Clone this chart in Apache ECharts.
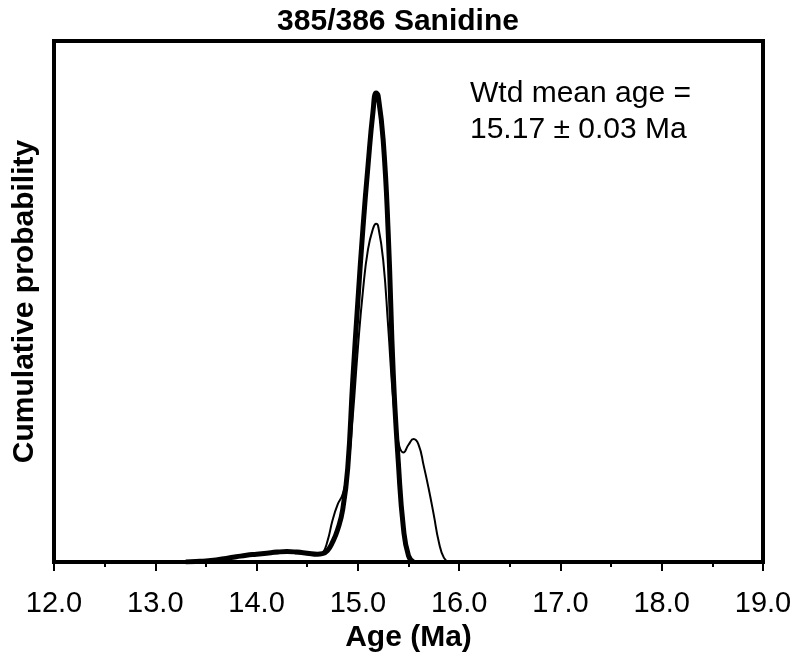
<!DOCTYPE html>
<html>
<head>
<meta charset="utf-8">
<script src="https://cdn.jsdelivr.net/npm/echarts@6/dist/echarts.min.js"></script>
<style>
  html, body { margin: 0; padding: 0; background: #fff; }
  #chart { width: 796px; height: 661px; }
</style>
</head>
<body>
<div id="chart"></div>
<script>
// x axis range (Ma)
var xMin = 12, xMax = 19;

// thick curve
var thickAges = [13.3, 13.4, 13.5, 13.6, 13.7, 13.8, 13.9, 14.0, 14.1, 14.2, 14.3, 14.4, 14.5, 14.6, 14.65,
  14.7, 14.75, 14.8, 14.85, 14.9, 14.95, 15.0, 15.05, 15.1, 15.15, 15.18, 15.2, 15.25, 15.3, 15.35,
  15.4, 15.45, 15.5, 15.55];
var thickVals = [0, 0.001, 0.002, 0.004, 0.007, 0.010, 0.013, 0.015, 0.017, 0.019, 0.020, 0.019, 0.017, 0.015, 0.016,
  0.022, 0.038, 0.062, 0.10, 0.18, 0.35, 0.50, 0.64, 0.76, 0.865, 0.90, 0.895, 0.81, 0.63, 0.36,
  0.19, 0.065, 0.012, 0];

// thin curve
var thinAges = [13.3, 13.4, 13.5, 13.6, 13.7, 13.8, 13.9, 14.0, 14.1, 14.2, 14.3, 14.4, 14.5, 14.6, 14.65,
  14.7, 14.75, 14.8, 14.85, 14.9, 14.95, 15.0, 15.05, 15.1, 15.15, 15.18, 15.2, 15.25, 15.3, 15.35,
  15.4, 15.45, 15.5, 15.55, 15.6, 15.65, 15.7, 15.75, 15.8, 15.85, 15.9];
var thinVals = [0, 0.001, 0.002, 0.003, 0.006, 0.009, 0.012, 0.014, 0.016, 0.017, 0.018, 0.017, 0.015, 0.014, 0.017,
  0.040, 0.080, 0.110, 0.130, 0.175, 0.28, 0.41, 0.52, 0.60, 0.64, 0.649, 0.645, 0.58, 0.45, 0.31,
  0.23, 0.21, 0.225, 0.236, 0.225, 0.185, 0.14, 0.09, 0.038, 0.008, 0];

var titleText = "385/386 Sanidine";
var noteText = "Wtd mean age =\n15.17 \u00b1 0.03 Ma";

var fontFam = "'Liberation Sans', Arial, sans-serif";

function pairs(xs, ys) {
  return xs.map(function (x, i) { return [x, ys[i]]; });
}

var myChart = echarts.init(document.getElementById("chart"));
var option = {
  animation: false,
  backgroundColor: "#fff",
  title: {
    text: titleText,
    left: "center",
    top: 2,
    textStyle: { fontFamily: fontFam, fontSize: 30, fontWeight: "bold", color: "#000" }
  },
  grid: {
    left: 54,
    right: 33,
    top: 41,
    bottom: 99,
    show: true,
    borderWidth: 4,
    borderColor: "#000"
  },
  xAxis: {
    type: "value",
    min: xMin,
    max: xMax,
    interval: 1,
    name: "Age (Ma)",
    nameLocation: "middle",
    nameGap: 59,
    nameTextStyle: { fontFamily: fontFam, fontSize: 30, fontWeight: "bold", color: "#000" },
    axisLine: { show: true, lineStyle: { color: "#000", width: 4 } },
    axisTick: { show: true, inside: false, length: 9, lineStyle: { color: "#000", width: 2 } },
    minorTick: { show: true, splitNumber: 2, length: 5, lineStyle: { color: "#000", width: 2 } },
    axisLabel: {
      margin: 27,
      fontFamily: fontFam,
      fontSize: 29,
      color: "#000",
      formatter: function (v) { return v.toFixed(1); }
    },
    splitLine: { show: false }
  },
  yAxis: {
    type: "value",
    min: 0,
    max: 1,
    name: "Cumulative probability",
    nameLocation: "middle",
    nameGap: 14,
    nameTextStyle: { fontFamily: fontFam, fontSize: 30, fontWeight: "bold", color: "#000" },
    axisLine: { show: false },
    axisTick: { show: false },
    axisLabel: { show: false },
    splitLine: { show: false }
  },
  graphic: [{
    type: "text",
    left: 470,
    top: 76,
    style: {
      text: noteText,
      font: "30px " + fontFam,
      lineHeight: 36,
      fill: "#000"
    }
  }],
  series: [
    {
      type: "line",
      data: pairs(thickAges, thickVals),
      showSymbol: false,
      smooth: 0.5,
      lineStyle: { color: "#000", width: 5 }
    },
    {
      type: "line",
      data: pairs(thinAges, thinVals),
      showSymbol: false,
      smooth: 0.5,
      lineStyle: { color: "#000", width: 2 }
    }
  ]
};
myChart.setOption(option);
</script>
</body>
</html>
